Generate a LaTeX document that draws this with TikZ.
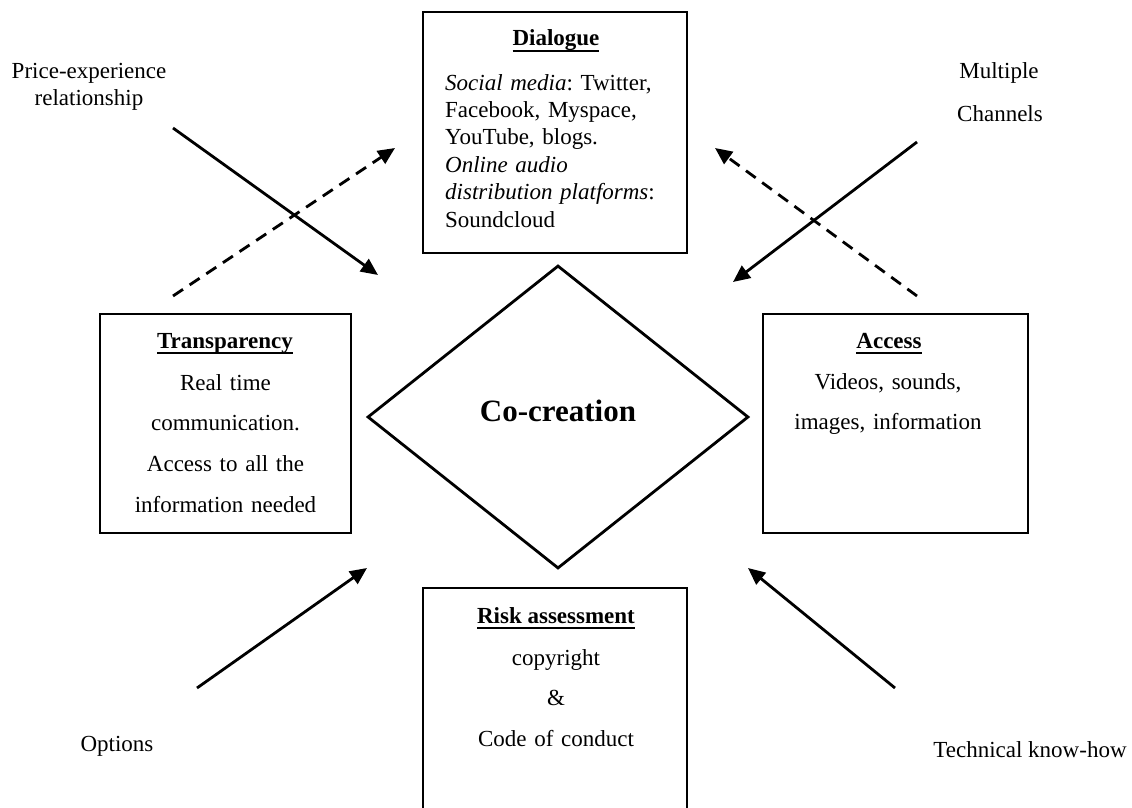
\documentclass[tikz,border=0pt]{standalone}
\usepackage{fontspec}
\setmainfont{Liberation Serif}
\usetikzlibrary{arrows.meta,shapes.geometric}
\frenchspacing
\newcommand\ulbold[1]{\setbox0\hbox{\bfseries #1}\rlap{\rule[-6.3pt]{\wd0}{2.6pt}}\box0}
\begin{document}
\begin{tikzpicture}[x=1pt,y=-1pt,
  box/.style={draw, line width=2.8pt, inner sep=0pt},
  txt/.style={font=\fontsize{23}{27.4}\selectfont, inner sep=0pt, anchor=base},
  wide/.style={font=\fontsize{23}{40.7}\selectfont, inner sep=0pt, anchor=base, text width=#1, align=center},
  arr/.style={line width=2.8pt, -{Triangle[length=17pt,width=15pt]}},
  darr/.style={arr, dash pattern=on 12pt off 8pt}]
\useasboundingbox (0,0) rectangle (1132,808);
\clip (0,0) rectangle (1132,808);

% boxes
\node[box, minimum width=264, minimum height=241] (dlg) at (555,132.5) {};
\node[box, minimum width=251, minimum height=219] (trn) at (225.5,423.5) {};
\node[box, minimum width=265, minimum height=219] (acc) at (895.5,423.5) {};
\node[box, minimum width=264, minimum height=242] (rsk) at (555,709) {};
\node[draw, diamond, line width=2.8pt, inner sep=0pt, minimum width=381, minimum height=303] (cocre) at (558,417) {};
\node[txt, font=\fontsize{31}{36}\selectfont\bfseries] (cocretxt) at (558,421) {Co-creation};

% box texts
\node[txt] (dlgttl) at (556,46) {\ulbold{Dialogue}};
\node[txt, anchor=base west, text width=235, align=left] (dlgbody) at (445,90)
  {\textit{Social media}: Twitter,\\ Facebook, Myspace,\\ YouTube, blogs.\\ \textit{Online audio}\\ \textit{distribution platforms}:\\ Soundcloud};
\node[txt] (trnttl) at (225,348) {\ulbold{Transparency}};
\node[wide=240] (trnbody) at (225.5,390) {Real time\\ communication.\\ Access to all the\\ information needed};
\node[txt] (accttl) at (889,348) {\ulbold{Access}};
\node[wide=250] (accbody) at (888,389) {Videos, sounds,\\ images, information};
\node[txt] (rskttl) at (556,623) {\ulbold{Risk assessment}};
\node[wide=250] (rskbody) at (556,665) {copyright\\ \&\\ Code of conduct};

% outside labels
\node[txt, text width=200, align=center] (price) at (89,78) {Price-experience\\ relationship};
\node[txt] (mult) at (999,78) {Multiple};
\node[txt] (chan) at (1000,121) {Channels};
\node[txt] (opt) at (117,751) {Options};
\node[txt] (tech) at (1030,757) {Technical know-how};

% arrow end points
\coordinate (tlsA) at (173,128); \coordinate (tlsB) at (378,275);
\coordinate (tldA) at (173,296); \coordinate (tldB) at (395,148);
\coordinate (trsA) at (917,142); \coordinate (trsB) at (733,282);
\coordinate (trdA) at (917,296); \coordinate (trdB) at (715,148);
\coordinate (blA) at (197,688);  \coordinate (blB) at (367,568);
\coordinate (brA) at (895,688);  \coordinate (brB) at (748,568);

\draw[arr] (tlsA) -- (tlsB);
\draw[darr] (tldA) -- (tldB);
\draw[arr] (trsA) -- (trsB);
\draw[darr] (trdA) -- (trdB);
\draw[arr] (blA) -- (blB);
\draw[arr] (brA) -- (brB);
\end{tikzpicture}
\end{document}
